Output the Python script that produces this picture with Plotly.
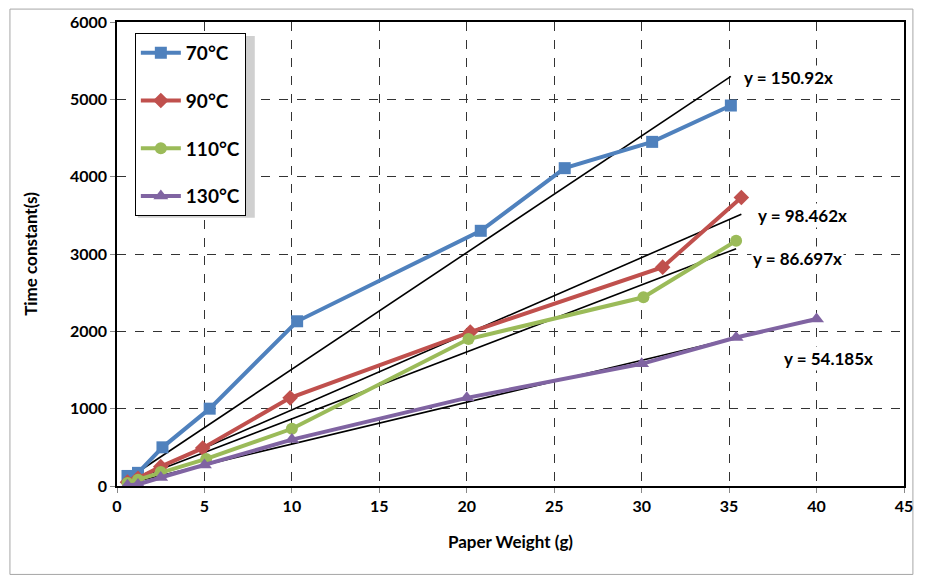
import plotly.graph_objects as go

# ---- data ----
x70 = [0.6, 1.2, 2.6, 5.3, 10.3, 20.8, 25.6, 30.6, 35.1]
y70 = [130, 170, 500, 1000, 2130, 3300, 4110, 4450, 4920]
x90 = [0.6, 1.2, 2.5, 4.9, 9.9, 20.2, 31.2, 35.7]
y90 = [50, 100, 250, 490, 1140, 1990, 2830, 3730]
x110 = [0.6, 1.2, 2.5, 5.1, 10.0, 20.1, 30.1, 35.4]
y110 = [40, 80, 180, 350, 740, 1900, 2440, 3170]
x130 = [0.6, 1.2, 2.5, 5.0, 10.0, 20.0, 30.0, 35.4, 40.0]
y130 = [10, 20, 110, 270, 600, 1140, 1580, 1920, 2160]

series_names = ["70°C", "90°C", "110°C", "130°C"]
slopes = [150.92, 98.462, 86.697, 54.185]
trend_labels = ["y = 150.92x", "y = 98.462x", "y = 86.697x", "y = 54.185x"]
label_pos = [(38.4, 5283), (39.2, 3496), (38.9, 2943), (40.7, 1645)]

x_ticks = [0, 5, 10, 15, 20, 25, 30, 35, 40, 45]
y_ticks = [0, 1000, 2000, 3000, 4000, 5000, 6000]

colors = ["#4F81BD", "#C0504D", "#9BBB59", "#8064A2"]
symbols = ["square", "diamond", "circle", "triangle-up"]
msizes = [12, 12, 12, 13]

xs = [x70, x90, x110, x130]
ys = [y70, y90, y110, y130]

FONT = "Lato"

fig = go.Figure()

for i in range(4):
    xmin, xmax = min(xs[i]), max(xs[i])
    fig.add_trace(go.Scatter(
        x=[xmin, xmax], y=[slopes[i] * xmin, slopes[i] * xmax],
        mode="lines", line=dict(color="black", width=1.6),
        showlegend=False, hoverinfo="skip"))

for i in range(4):
    fig.add_trace(go.Scatter(
        x=xs[i], y=ys[i], name=series_names[i], legendgroup=series_names[i],
        mode="lines+markers",
        line=dict(color=colors[i], width=4),
        marker=dict(symbol=symbols[i], size=msizes[i], color=colors[i]),
    ))

for i in range(4):
    fig.add_annotation(x=label_pos[i][0], y=label_pos[i][1], text=trend_labels[i],
                       showarrow=False, bgcolor="white", borderpad=1,
                       font=dict(family=FONT, size=17, color="black", weight="bold"))

# outer chart border
fig.add_shape(type="rect", xref="paper", yref="paper",
              x0=(9 - 117) / 794, x1=(920 - 117) / 794,
              y0=(486 - 575) / 467, y1=(486 - 6) / 467,
              line=dict(color="#A6A6A6", width=1), layer="below")

# legend shadow
fig.add_shape(type="rect", xref="paper", yref="paper",
              x0=(138 - 117) / 794, x1=(256 - 117) / 794,
              y0=(486 - 216) / 467, y1=(486 - 33) / 467,
              line=dict(width=0), fillcolor="#D0D0D0", layer="above")

fig.update_layout(
    width=925, height=576,
    margin=dict(l=117, r=14, t=19, b=90),
    paper_bgcolor="white", plot_bgcolor="white",
    font=dict(family=FONT, color="black"),
    showlegend=True,
    legend=dict(x=(135 - 117) / 794, y=(486 - 30) / 467, xanchor="left", yanchor="top",
                bgcolor="white", bordercolor="black", borderwidth=1,
                font=dict(family=FONT, size=19, color="black", weight="bold"),
                tracegroupgap=20, itemwidth=40),
    xaxis=dict(range=[0, 45], tickvals=x_ticks, ticktext=[str(v) for v in x_ticks],
               showgrid=True, gridcolor="#333333", griddash="dash", gridwidth=1,
               showline=True, linecolor="black", linewidth=1.5, mirror=True,
               ticks="outside", ticklen=5, tickcolor="#888888",
               tickfont=dict(family=FONT, size=16, weight="bold"),
               zeroline=False,
               title=dict(text="Paper Weight (g)", font=dict(family=FONT, size=17, weight="bold"), standoff=22)),
    yaxis=dict(range=[0, 6000], tickvals=y_ticks, ticktext=[str(v) for v in y_ticks],
               showgrid=True, gridcolor="#333333", griddash="dash", gridwidth=1,
               showline=True, linecolor="black", linewidth=1.5, mirror=True,
               ticks="outside", ticklen=5, tickcolor="#888888",
               tickfont=dict(family=FONT, size=16, weight="bold"),
               zeroline=False,
               title=dict(text="Time constant(s)", font=dict(family=FONT, size=17, weight="bold"), standoff=28)),
)

fig.write_html("out.html")
